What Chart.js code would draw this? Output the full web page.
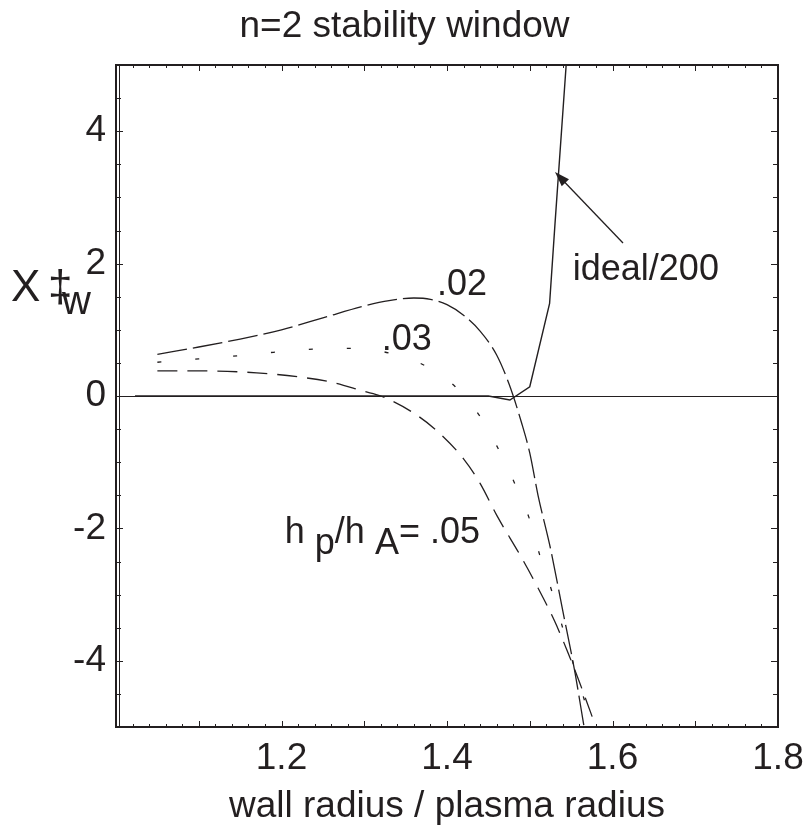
<!DOCTYPE html>
<html>
<head>
<meta charset="utf-8">
<script src="https://cdn.jsdelivr.net/npm/chart.js@4.4.1/dist/chart.umd.min.js"></script>
<style>
  html, body { margin: 0; padding: 0; background: #fff; }
  canvas { display: block; }
</style>
</head>
<body>
<canvas id="chart" width="809" height="833"></canvas>
<script>
// Valores (radio de pared / radio de plasma vs X‡w)
const idealR = [1.023, 1.450, 1.476, 1.500, 1.524, 1.5305, 1.544];
const idealG = [0.00, 0.00, -0.06, 0.14, 1.40, 2.60, 5.00];

const r02 = [1.05, 1.10, 1.15, 1.20, 1.25, 1.30, 1.33, 1.36, 1.38, 1.40, 1.42, 1.44, 1.46, 1.475, 1.49, 1.50, 1.51, 1.525, 1.54, 1.555, 1.565, 1.57];
const g02 = [0.63, 0.74, 0.86, 1.00, 1.18, 1.36, 1.44, 1.48, 1.46, 1.38, 1.22, 0.98, 0.62, 0.18, -0.40, -0.86, -1.50, -2.30, -3.25, -4.20, -4.95, -5.30];

const r03 = [1.05, 1.10, 1.15, 1.19, 1.24, 1.28, 1.33, 1.37, 1.41, 1.44, 1.46, 1.48, 1.50, 1.512, 1.527, 1.54, 1.551, 1.565, 1.578];
const g03 = [0.51, 0.56, 0.61, 0.66, 0.71, 0.72, 0.65, 0.48, 0.14, -0.31, -0.75, -1.27, -1.87, -2.40, -2.96, -3.51, -3.98, -4.55, -5.10];

const r05 = [1.05, 1.10, 1.17, 1.22, 1.26, 1.30, 1.32, 1.36, 1.39, 1.42, 1.44, 1.46, 1.49, 1.51, 1.53, 1.545, 1.56, 1.58];
const g05 = [0.38, 0.38, 0.35, 0.29, 0.21, 0.07, 0.00, -0.26, -0.55, -0.95, -1.32, -1.80, -2.44, -2.90, -3.40, -3.84, -4.32, -5.00];

const xTicks = [1.2, 1.4, 1.6, 1.8];
const yTicks = [-4, -2, 0, 2, 4];

const FONT = '"Liberation Sans", Arial, Helvetica, sans-serif';
const INK = '#231f20';

const pts = (r, g) => r.map((x, i) => ({ x, y: g[i] }));

/**
 * Marco, marcas menores hacia dentro, línea cero, textos y flecha
 */
const decor = {
    id: 'decor',
    beforeDatasetsDraw(chart) {
        const { ctx, chartArea: a, scales: { x, y } } = chart;
        ctx.save();
        ctx.strokeStyle = INK;
        // línea y = 0
        ctx.lineWidth = 1;
        const y0 = Math.round(y.getPixelForValue(0)) + 0.5;
        ctx.beginPath();
        ctx.moveTo(a.left, y0);
        ctx.lineTo(a.right, y0);
        ctx.stroke();
        // marcas eje x (arriba y abajo)
        for (let k = 0; k <= 40; k++) {
            const v = 1.0 + k * 0.02;
            const px = Math.round(x.getPixelForValue(v)) + 0.5;
            const len = k % 5 === 0 ? 6 : 3;
            ctx.beginPath();
            ctx.moveTo(px, a.bottom); ctx.lineTo(px, a.bottom - len);
            ctx.moveTo(px, a.top); ctx.lineTo(px, a.top + len);
            ctx.stroke();
        }
        // marcas eje y (izquierda y derecha)
        for (let k = 0; k <= 20; k++) {
            const v = -5 + k * 0.5;
            const py = Math.round(y.getPixelForValue(v)) + 0.5;
            const len = k % 4 === 2 ? 7 : 5;
            ctx.beginPath();
            ctx.moveTo(a.left, py); ctx.lineTo(a.left + len, py);
            ctx.moveTo(a.right, py); ctx.lineTo(a.right - len, py);
            ctx.stroke();
        }
        ctx.restore();
    },
    afterDraw(chart) {
        const { ctx, chartArea: a, scales: { x, y } } = chart;
        ctx.save();
        // marco
        ctx.strokeStyle = INK;
        ctx.lineWidth = 2;
        ctx.strokeRect(a.left, a.top, a.right - a.left, a.bottom - a.top);
        ctx.lineWidth = 1;
        ctx.beginPath();
        ctx.moveTo(a.left + 3.5, a.top); ctx.lineTo(a.left + 3.5, a.bottom);
        ctx.stroke();

        ctx.fillStyle = INK;
        ctx.textBaseline = 'alphabetic';

        // título y título del eje x
        ctx.font = `37px ${FONT}`;
        ctx.textAlign = 'center';
        ctx.fillText('n=2 stability window', chart.width / 2, 37);
        ctx.fillText('wall radius / plasma radius', (a.left + a.right) / 2, 817);

        // etiqueta eje y
        ctx.textAlign = 'left';
        ctx.font = `44px ${FONT}`;
        ctx.fillText('X', 11, 301);
        ctx.fillText('\u2021', 48, 301);
        ctx.font = `40px ${FONT}`;
        ctx.fillText('w', 62, 314);

        // etiquetas de curvas
        ctx.font = `36px ${FONT}`;
        const at = (vx, vy) => [x.getPixelForValue(vx), y.getPixelForValue(vy)];
        let [px, py] = at(1.388, 1.526);
        ctx.fillText('.02', px, py);
        [px, py] = at(1.321, 0.695);
        ctx.fillText('.03', px, py);
        [px, py] = at(1.552, 1.752);
        ctx.fillText('ideal/200', px, py);

        [px, py] = at(1.204, -2.22);
        const parts = [['h ', 0], ['p', 11], ['/h ', 0], ['A', 11], ['= .05', 0]];
        parts.forEach(([t, dy]) => {
            ctx.fillText(t, px, py + dy);
            px += ctx.measureText(t).width;
        });

        // flecha hacia la curva ideal
        const [tx, ty] = at(1.6127, 2.311);
        const [hx, hy] = at(1.5305, 3.384);
        const ang = Math.atan2(hy - ty, hx - tx);
        ctx.strokeStyle = INK;
        ctx.lineWidth = 1.3;
        ctx.beginPath();
        ctx.moveTo(tx, ty);
        ctx.lineTo(hx - 10 * Math.cos(ang), hy - 10 * Math.sin(ang));
        ctx.stroke();
        ctx.beginPath();
        ctx.moveTo(hx, hy);
        ctx.lineTo(hx - 15 * Math.cos(ang) + 5 * Math.sin(ang), hy - 15 * Math.sin(ang) - 5 * Math.cos(ang));
        ctx.lineTo(hx - 15 * Math.cos(ang) - 5 * Math.sin(ang), hy - 15 * Math.sin(ang) + 5 * Math.cos(ang));
        ctx.closePath();
        ctx.fill();
        ctx.restore();
    }
};

const line = (data, dash, width) => ({
    data,
    borderColor: INK,
    borderWidth: width,
    borderDash: dash,
    pointRadius: 0,
    fill: false,
    cubicInterpolationMode: dash.length ? 'monotone' : 'default',
    tension: 0
});

new Chart(document.getElementById('chart'), {
    type: 'line',
    data: {
        datasets: [
            line(pts(idealR, idealG), [], 1.4),
            line(pts(r02, g02), [30, 6], 1.3),
            line(pts(r03, g03), [4, 34], 1.3),
            line(pts(r05, g05), [20, 10], 1.3)
        ]
    },
    options: {
        responsive: false,
        animation: false,
        events: [],
        layout: { padding: { top: 65, right: 31, left: 0, bottom: 0 } },
        plugins: { legend: { display: false }, tooltip: { enabled: false } },
        scales: {
            x: {
                type: 'linear',
                min: 1.0,
                max: 1.8,
                afterBuildTicks: s => { s.ticks = xTicks.map(v => ({ value: v })); },
                afterFit: s => {
                    s.height = 833 - 727;
                    s.paddingLeft = 0;
                    s.paddingRight = 0;
                },
                grid: { display: false, drawTicks: false },
                border: { display: false },
                ticks: {
                    color: INK,
                    font: { family: FONT, size: 37 },
                    padding: 10,
                    maxRotation: 0,
                    autoSkip: false,
                    callback: v => v.toFixed(1)
                }
            },
            y: {
                type: 'linear',
                min: -5,
                max: 5,
                afterBuildTicks: s => { s.ticks = yTicks.map(v => ({ value: v })); },
                afterFit: s => {
                    s.width = 116;
                    s.paddingTop = 0;
                    s.paddingBottom = 0;
                },
                grid: { display: false, drawTicks: false },
                border: { display: false },
                ticks: {
                    color: INK,
                    font: { family: FONT, size: 37 },
                    padding: 10,
                    autoSkip: false,
                    callback: v => String(v)
                }
            }
        }
    },
    plugins: [decor]
});
</script>
</body>
</html>
